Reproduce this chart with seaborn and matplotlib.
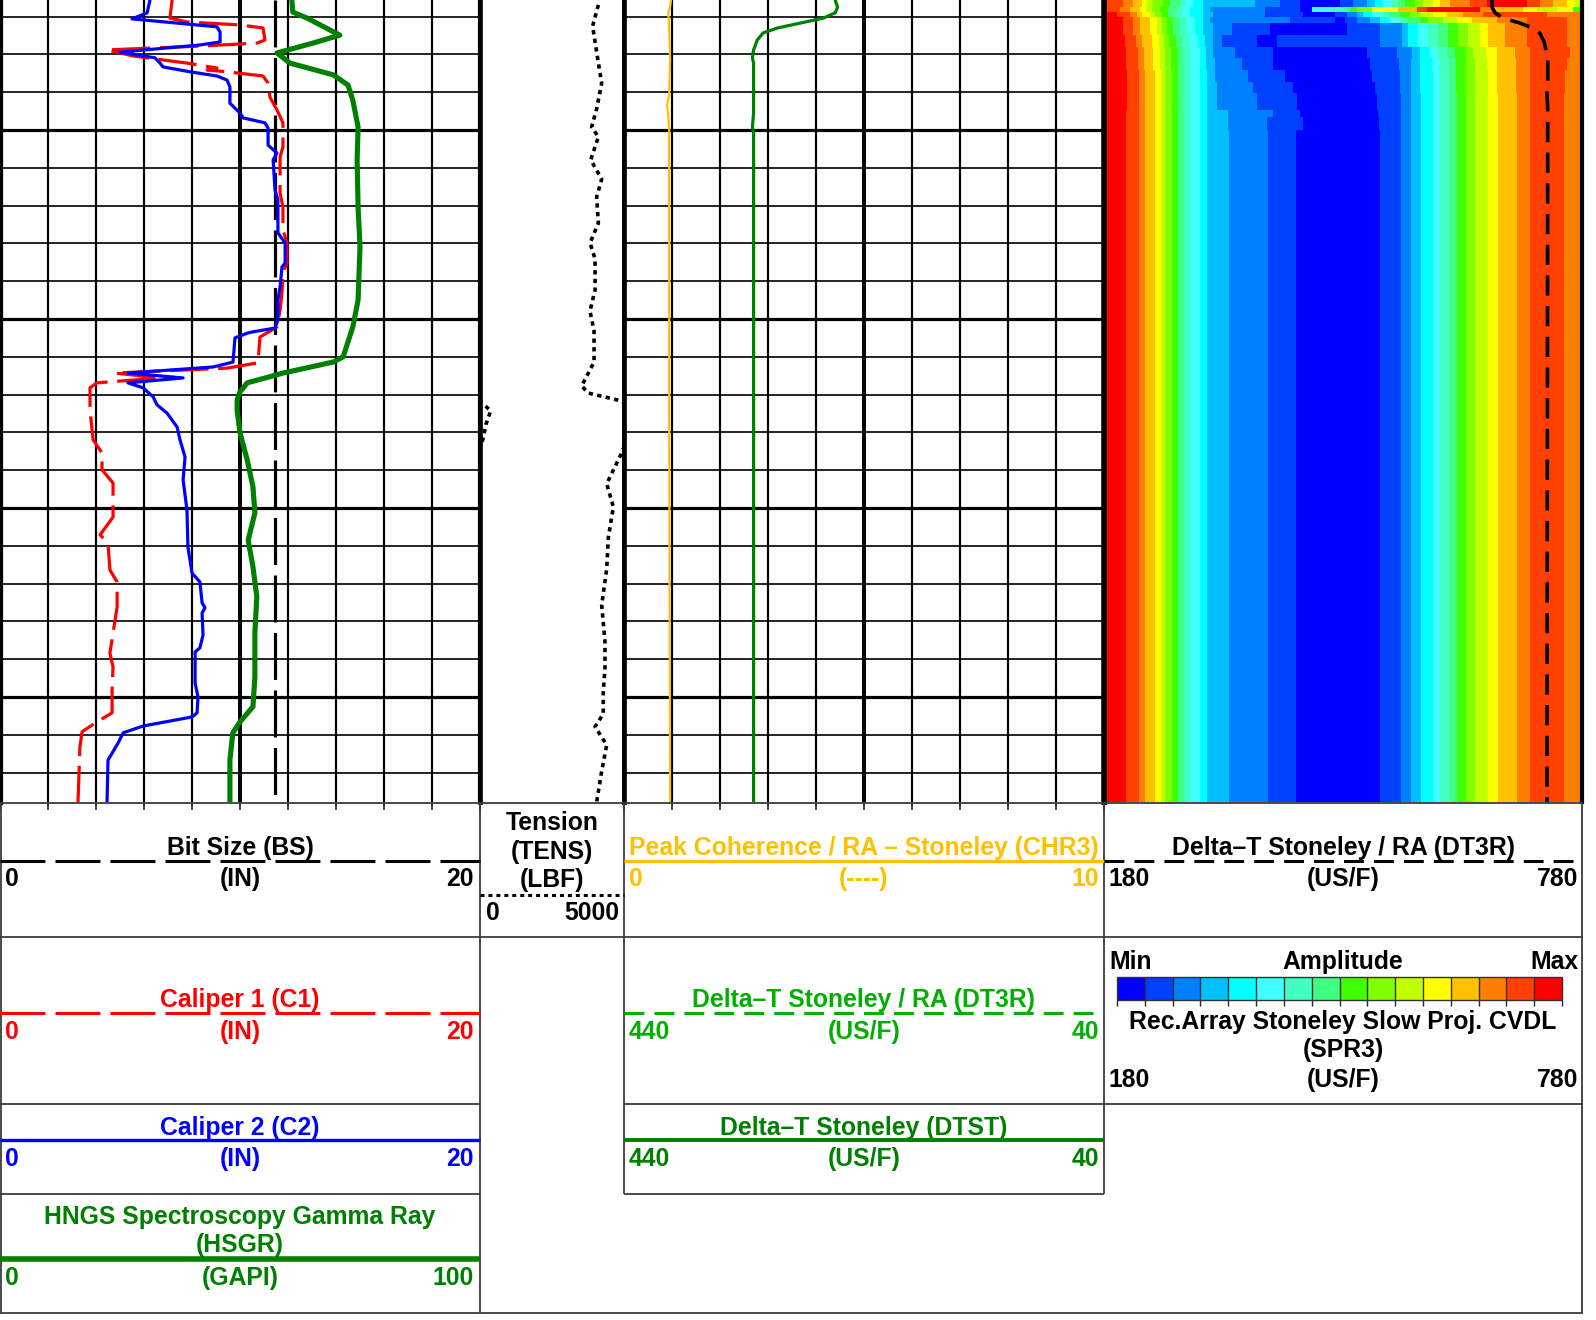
import numpy as np
import pandas as pd
import matplotlib
matplotlib.use("Agg")
import matplotlib.pyplot as plt
from matplotlib.colors import ListedColormap, BoundaryNorm
from matplotlib.ticker import MultipleLocator
from matplotlib.cm import ScalarMappable
import seaborn as sns

sns.set_theme(style="white")
plt.rcParams['font.family'] = ['Liberation Sans', 'DejaVu Sans']
plt.rcParams['font.weight'] = 'bold'

# ------------------------------------------------------------------ data
depth_top, depth_bot = 1001.56, 1022.78

c2_depth = [1001.56, 1001.90, 1002.06, 1002.27, 1002.41, 1002.67, 1002.75, 1002.94, 1003.09, 1003.23,
            1003.33, 1003.46, 1003.57, 1003.68, 1003.86, 1004.29, 1004.55, 1004.68, 1004.81, 1004.95,
            1005.40, 1005.61, 1005.79, 1006.59, 1006.85, 1007.72, 1007.99, 1008.52, 1008.62, 1009.15,
            1009.50, 1010.03, 1010.24, 1010.34, 1010.37, 1010.50, 1011.14, 1011.27, 1011.43, 1011.56,
            1011.69, 1011.82, 1012.06, 1012.27, 1012.49, 1012.86, 1013.20, 1013.65, 1014.26, 1015.05,
            1016.03, 1016.72, 1016.96, 1017.51, 1017.64, 1017.78, 1018.36, 1018.70, 1018.81, 1019.63,
            1020.00, 1020.42, 1020.53, 1020.77, 1020.95, 1021.22, 1021.67, 1022.78]
c2_in = [6.25, 6.13, 5.50, 9.04, 9.17, 9.17, 8.33, 5.00, 6.46, 6.67,
         6.79, 7.92, 9.04, 9.46, 9.58, 9.58, 10.00, 10.13, 11.04, 11.17,
         11.17, 11.54, 11.38, 11.46, 11.58, 11.58, 11.88, 11.88, 11.75, 11.67,
         11.58, 11.58, 11.46, 10.54, 10.33, 9.79, 9.71, 8.88, 5.33, 7.63,
         5.33, 5.96, 6.38, 6.54, 6.96, 7.38, 7.50, 7.71, 7.63, 7.79,
         7.83, 8.00, 8.33, 8.42, 8.54, 8.42, 8.46, 8.33, 8.13, 8.13,
         8.25, 8.21, 8.00, 5.96, 5.13, 4.92, 4.50, 4.46]

c1_depth = [1001.56, 1002.04, 1002.14, 1002.22, 1002.30, 1002.62, 1002.70, 1002.78, 1002.88, 1003.04,
            1003.23, 1003.36, 1003.41, 1003.46, 1003.57, 1003.76, 1004.13, 1004.47, 1004.81, 1005.45,
            1005.71, 1006.67, 1007.04, 1007.64, 1007.99, 1008.52, 1008.78, 1009.31, 1009.76, 1010.21,
            1010.48, 1011.16, 1011.30, 1011.43, 1011.56, 1011.69, 1011.82, 1012.41, 1013.20, 1013.54,
            1013.99, 1014.34, 1015.24, 1015.71, 1015.93, 1016.64, 1016.96, 1017.62, 1018.31, 1018.84,
            1019.21, 1019.81, 1020.42, 1020.66, 1020.92, 1021.32, 1022.78]
c1_in = [7.17, 7.08, 7.79, 10.00, 10.96, 11.04, 10.71, 8.33, 4.46, 5.54,
         7.79, 9.04, 8.63, 9.46, 10.96, 11.17, 11.25, 11.54, 11.79, 11.79,
         11.67, 11.67, 11.79, 11.79, 11.96, 11.96, 11.79, 11.75, 11.67, 11.54,
         10.83, 10.75, 9.46, 4.79, 6.67, 4.04, 3.75, 3.75, 3.88, 4.25,
         4.25, 4.71, 4.71, 4.17, 4.50, 4.58, 4.88, 4.88, 4.71, 4.58,
         4.71, 4.67, 4.67, 4.04, 3.42, 3.33, 3.25]

hsgr_depth = [1001.56, 1001.88, 1002.04, 1002.49, 1002.70, 1002.96, 1003.23, 1003.54, 1003.81, 1004.21,
              1004.92, 1005.79, 1007.04, 1008.09, 1009.50, 1010.21, 1011.00, 1011.14, 1011.43, 1011.69,
              1011.93, 1012.14, 1012.41, 1013.01, 1013.73, 1014.44, 1015.13, 1015.85, 1016.56, 1017.35,
              1018.31, 1019.47, 1020.26, 1020.66, 1020.95, 1021.67, 1022.78]
hsgr_gapi = [60.8, 61.0, 64.0, 70.8, 65.2, 57.7, 60.4, 69.4, 72.5, 73.5,
             74.6, 74.4, 74.6, 75.0, 74.6, 73.5, 71.5, 69.4, 59.0, 51.5,
             50.0, 49.4, 49.4, 50.0, 51.5, 52.7, 53.1, 51.7, 52.7, 53.5,
             53.1, 53.1, 52.7, 50.0, 48.5, 47.9, 47.9]

bs_depth = [depth_top, depth_bot]
bs_in = [11.45, 11.45]

tens_depth = [1001.69, 1002.25, 1002.94, 1003.76, 1004.44, 1004.92, 1005.18, 1005.79, 1006.30, 1006.77,
              1007.46, 1007.99, 1008.41, 1009.23, 1009.79, 1010.32, 1011.14, 1011.77, 1011.96, 1012.17,
              1012.25, 1012.43, 1012.78, 1013.20, 1013.54, 1014.36, 1014.97, 1015.79, 1016.61, 1017.57,
              1018.54, 1019.23, 1019.89, 1020.45, 1020.79, 1021.27, 1021.96, 1022.78]
tens_lbf = [4110, 3910, 4050, 4225, 4050, 3875, 4110, 3845, 4225, 4050,
            4110, 3820, 3995, 3995, 3820, 3960, 3960, 3530, 3760, 4920,
            5115, 5370, 5210, 5095, 4920, 4400, 4630, 4455, 4400, 4225,
            4340, 4340, 4280, 4280, 3995, 4400, 4225, 4050]
tens_scale_max = 5000

chr3_depth = [1001.56, 1001.75, 1001.90, 1002.27, 1003.15, 1004.07, 1004.34, 1004.60, 1005.00, 1012.14, 1022.78]
chr3 = [0.98, 0.96, 0.92, 0.94, 0.96, 0.94, 0.90, 0.92, 0.94, 0.94, 0.96]

dtst_depth = [1001.56, 1001.75, 1001.90, 1002.04, 1002.30, 1002.43, 1002.62, 1002.88, 1003.09, 1003.23,
              1004.55, 1004.92, 1005.08, 1012.14, 1022.78]
dtst = [264, 262, 264, 274, 312, 324, 329, 332, 333, 332, 332, 333, 332, 332, 332]

dt3r_depth = [1001.56, 1001.75, 1001.90, 1002.04, 1002.17, 1002.30, 1002.43, 1002.70, 1003.15, 1003.68,
              1004.02, 1004.47, 1022.78]
dt3r = [667, 667, 671, 681, 702, 718, 727, 733, 737, 737, 736, 737, 736]

# SPR3 projection image: amplitude class (0 = Min ... 15 = Max) per slowness band, per depth row
amp_colors = ['#0000FF', '#0040FF', '#0080FF', '#00C0FF', '#00FFFF', '#40FFFF', '#40FFC0', '#40FF80',
              '#40FF00', '#80FF00', '#C0FF00', '#FFFF00', '#FFC000', '#FF8000', '#FF4000', '#FF0000']
spr3_row_depths = [1001.56, 1001.745, 1001.877, 1002.01, 1002.17, 1002.49, 1002.80, 1003.09, 1003.41,
                   1003.73, 1004.02, 1004.47, 1004.66, 1005.0, 1022.78]
lv_std = [15, 14, 13, 12, 11, 10, 9, 8, 7, 6, 5, 4, 3, 2, 1, 0, 1, 2, 3, 4, 5, 6, 7, 8, 9, 10, 11, 12, 13, 14, 13]
lv_r1 = [14, 13, 12, 11, 10, 9, 8, 7, 6, 5, 4, 3, 2, 1, 0, 1, 2, 3, 4, 5, 6, 7, 8, 9, 10, 11, 12, 13, 14, 15,
         14, 13, 12, 11, 10]
lv_r2 = [14, 13, 12, 11, 10, 9, 8, 7, 6, 5, 4, 3, 2, 1, 0, 5, 6, 7, 8, 9, 11, 12, 14, 15, 13, 12, 11, 10, 11, 8]
spr3_levels = [lv_r1, lv_r2] + [lv_std] * 12
spr3_edges = [
    [180, 204, 216, 228, 234, 241, 254, 263, 275, 282, 292, 304, 370, 401, 426, 476, 493, 510, 520, 530, 542,
     549, 558, 570, 580, 593, 602, 614, 639, 661, 711, 727, 744, 761, 771, 780],
    [180, 200, 213, 225, 233, 240, 250, 260, 272, 279, 288, 304, 313, 382, 426, 441, 464, 483, 489, 498, 517,
     549, 573, 585, 652, 668, 706, 723, 749, 769, 780],
    [180, 196, 213, 221, 228, 238, 244, 253, 260, 269, 278, 288, 304, 317, 382, 430, 470, 485, 498, 505, 517,
     530, 539, 552, 564, 577, 593, 611, 631, 656, 736, 780],
    [180, 204, 216, 225, 238, 247, 253, 259, 267, 275, 284, 294, 304, 313, 413, 470, 483, 498, 514, 526, 539,
     552, 560, 577, 587, 606, 623, 642, 673, 711, 761, 780],
    [180, 204, 216, 225, 238, 247, 253, 259, 267, 275, 284, 294, 304, 317, 341, 388, 485, 526, 554, 562, 574,
     587, 599, 612, 624, 637, 652, 662, 683, 711, 761, 780],
    [180, 206, 220, 228, 240, 249, 255, 262, 270, 278, 287, 298, 307, 317, 328, 372, 397, 526, 554, 562, 574,
     587, 599, 612, 624, 637, 652, 662, 683, 711, 761, 780],
    [180, 208, 223, 230, 242, 250, 257, 264, 273, 279, 288, 300, 308, 317, 344, 392, 510, 548, 567, 577, 589,
     598, 611, 621, 634, 643, 659, 673, 696, 715, 765, 780],
    [180, 208, 223, 230, 242, 250, 257, 264, 273, 279, 288, 300, 308, 319, 353, 392, 514, 550, 565, 577, 592,
     601, 613, 622, 634, 646, 661, 673, 697, 715, 761, 780],
    [180, 209, 224, 231, 244, 252, 257, 265, 273, 279, 288, 300, 309, 319, 361, 407, 516, 552, 565, 577, 593,
     602, 614, 622, 634, 646, 662, 673, 697, 715, 759, 780],
    [180, 209, 224, 231, 244, 252, 257, 265, 273, 279, 288, 300, 309, 322, 367, 417, 520, 552, 565, 577, 593,
     602, 614, 622, 634, 646, 662, 673, 697, 715, 759, 780],
    [180, 209, 224, 231, 244, 252, 257, 265, 273, 279, 288, 300, 309, 322, 372, 422, 523, 553, 565, 578, 593,
     602, 614, 623, 634, 646, 662, 674, 698, 715, 758, 780],
    [180, 208, 224, 231, 244, 252, 257, 265, 273, 280, 288, 300, 309, 336, 392, 426, 524, 553, 565, 578, 593,
     602, 614, 623, 634, 646, 662, 674, 698, 715, 758, 780],
    [180, 208, 224, 231, 244, 252, 257, 265, 273, 280, 288, 300, 309, 336, 385, 430, 525, 553, 565, 578, 593,
     602, 614, 623, 634, 646, 662, 674, 698, 715, 758, 780],
    [180, 208, 224, 231, 244, 252, 257, 265, 273, 280, 288, 300, 309, 337, 386, 421, 526, 553, 565, 578, 593,
     602, 614, 623, 634, 646, 662, 674, 698, 715, 758, 780],
]

# ------------------------------------------------------------------ figure
W, H = 1596, 1320
fig = plt.figure(figsize=(W / 100, H / 100), dpi=100)
fig.patch.set_facecolor('white')
TRACK_BOT = 802


def add_ax(x0, x1, y0, y1):
    return fig.add_axes([x0 / W, 1 - y1 / H, (x1 - x0) / W, (y1 - y0) / H])


def clean(ax):
    ax.set_xlabel('')
    ax.set_ylabel('')
    ax.tick_params(which='both', left=False, right=False, bottom=False, top=False,
                   labelleft=False, labelbottom=False, labeltop=False, labelright=False)


def style_track(ax, xlim, step, center, grid=True, lw_left=3, lw_right=3):
    ax.set_xlim(*xlim)
    ax.set_ylim(depth_bot, depth_top)
    clean(ax)
    if grid:
        ax.xaxis.set_major_locator(MultipleLocator(step))
        ax.yaxis.set_major_locator(MultipleLocator(5))
        ax.yaxis.set_minor_locator(MultipleLocator(1))
        ax.grid(True, which='major', axis='x', color='black', lw=1.6)
        ax.grid(True, which='major', axis='y', color='black', lw=2.3)
        ax.grid(True, which='minor', axis='y', color='black', lw=1.2)
        ax.axvline(center, color='black', lw=2.8, zorder=0.6)
    else:
        ax.grid(False)
    ax.set_axisbelow(True)
    for s in ['top', 'bottom']:
        ax.spines[s].set_visible(False)
    ax.spines['left'].set_linewidth(lw_left)
    ax.spines['right'].set_linewidth(lw_right)
    ax.spines['left'].set_color('black')
    ax.spines['right'].set_color('black')


def twin(ax, xlim):
    t = ax.twiny()
    t.set_xlim(*xlim)
    clean(t)
    t.grid(False)
    for s in t.spines.values():
        s.set_visible(False)
    t.patch.set_visible(False)
    return t


def curve(ax, depth, values, color, lw, ls='-', zorder=3):
    df = pd.DataFrame({'value': values, 'depth': depth})
    sns.lineplot(data=df, x='value', y='depth', ax=ax, sort=False, estimator=None,
                 color=color, linewidth=lw, linestyle=ls, zorder=zorder)


DASH_LONG = (0, (14.7, 3.3))
DASH_SHORT = (0, (6.5, 3.3))
DOTTED = (0, (1.2, 1.2))
ORANGE = '#FFC000'
LGREEN = '#00B000'
DGREEN = '#008000'

# ---- track 1
ax1 = add_ax(0, 480, 0, TRACK_BOT)
curve(ax1, bs_depth, bs_in, 'black', 2.3, DASH_LONG)
curve(ax1, c1_depth, c1_in, '#FF0000', 2.3, (0, (12.0, 3.0)))
curve(ax1, c2_depth, c2_in, '#0000FF', 2.3)
style_track(ax1, (0, 20), 2, 10, lw_left=4.5, lw_right=3)
ax1h = twin(ax1, (0, 100))
curve(ax1h, hsgr_depth, hsgr_gapi, DGREEN, 3.7)
ax1h.set_xlim(0, 100)
clean(ax1h)

# ---- tension track
ax2 = add_ax(480, 624, 0, TRACK_BOT)
t = np.array(tens_lbf, dtype=float)
curve(ax2, tens_depth, t, 'black', 2.6, DOTTED)
curve(ax2, tens_depth, t - tens_scale_max, 'black', 2.6, DOTTED)
style_track(ax2, (0, tens_scale_max), 1000, 0, grid=False, lw_left=3.4, lw_right=3.4)

# ---- track 3
ax3 = add_ax(624, 1104, 0, TRACK_BOT)
curve(ax3, chr3_depth, chr3, ORANGE, 1.6)
style_track(ax3, (0, 10), 1, 5, lw_left=3.4, lw_right=3.5)
ax3d = twin(ax3, (440, 40))
curve(ax3d, dtst_depth, dtst, DGREEN, 2.3)
ax3d.set_xlim(440, 40)
clean(ax3d)

# ---- track 4 (SPR3 image + DT3R)
ax4 = add_ax(1104, 1582, 0, TRACK_BOT)
cmap = ListedColormap(amp_colors)
norm = BoundaryNorm(np.arange(-0.5, 16.5, 1), cmap.N)
for i, (lev, edg) in enumerate(zip(spr3_levels, spr3_edges)):
    ax4.pcolormesh(np.array(edg, float), np.array(spr3_row_depths[i:i + 2]), np.array([lev], float),
                   cmap=cmap, norm=norm, shading='flat', antialiased=False, edgecolors='none',
                   linewidth=0, zorder=1)
curve(ax4, dt3r_depth, dt3r, 'black', 2.6, (0, (5.6, 2.9)), zorder=4)
style_track(ax4, (180, 780), 60, 480, grid=False, lw_left=4, lw_right=3)

# ------------------------------------------------------------------ header
axh = fig.add_axes([0, 0, 1, (H - TRACK_BOT + 2) / H])
axh.set_xlim(0, W)
axh.set_ylim(H, TRACK_BOT - 2)
axh.set_axis_off()

FR = '#3c3c3c'


def hl(y, x0, x1, **kw):
    kw.setdefault('color', FR)
    kw.setdefault('lw', 1.3)
    axh.plot([x0, x1], [y, y], solid_capstyle='butt', dash_capstyle='butt', **kw)


def vl(x, y0, y1, **kw):
    kw.setdefault('color', FR)
    kw.setdefault('lw', 1.3)
    axh.plot([x, x], [y0, y1], solid_capstyle='butt', **kw)


# frame
hl(803, 0, 1583)
hl(937, 0, 1583)
hl(1104, 0, 480)
hl(1104, 624, 1583)
hl(1194, 0, 480)
hl(1194, 624, 1104)
hl(1313, 0, 1583)
vl(1, 803, 1313)
vl(480, 803, 1313)
vl(624, 803, 1194)
vl(1104, 803, 1194)
vl(1582, 803, 1313)

FS = 17.8


def T(x, y, s, color='black', ha='center'):
    axh.text(x, y, s, color=color, ha=ha, va='baseline', fontsize=FS, fontweight='bold')


# Bit size
T(240, 855, 'Bit Size (BS)')
hl(861, 0, 480, color='black', lw=2.2, linestyle=DASH_LONG)
T(5, 886, '0', ha='left'); T(240, 886, '(IN)'); T(474, 886, '20', ha='right')
# Caliper 1
T(240, 1007, 'Caliper 1 (C1)', '#FF0000')
hl(1013, 0, 480, color='#FF0000', lw=2.2, linestyle=DASH_LONG)
T(5, 1039, '0', '#FF0000', 'left'); T(240, 1039, '(IN)', '#FF0000'); T(474, 1039, '20', '#FF0000', 'right')
# Caliper 2
T(240, 1135, 'Caliper 2 (C2)', '#0000FF')
hl(1140, 0, 480, color='#0000FF', lw=2.4)
T(5, 1166, '0', '#0000FF', 'left'); T(240, 1166, '(IN)', '#0000FF'); T(474, 1166, '20', '#0000FF', 'right')
# HSGR
T(240, 1224, 'HNGS Spectroscopy Gamma Ray', DGREEN)
T(240, 1252, '(HSGR)', DGREEN)
hl(1259, 0, 480, color=DGREEN, lw=4)
T(5, 1285, '0', DGREEN, 'left'); T(240, 1285, '(GAPI)', DGREEN); T(474, 1285, '100', DGREEN, 'right')
# Tension
T(552, 830, 'Tension'); T(552, 859, '(TENS)'); T(552, 887, '(LBF)')
hl(895, 480, 624, color='black', lw=2.2, linestyle=(0, (1.3, 1.3)))
T(486, 920, '0', ha='left'); T(619, 920, '5000', ha='right')
# CHR3
T(864, 855, 'Peak Coherence / RA \u2013 Stoneley (CHR3)', ORANGE)
hl(861, 624, 1104, color=ORANGE, lw=2.2)
T(629, 886, '0', ORANGE, 'left'); T(864, 886, '(----)', ORANGE); T(1099, 886, '10', ORANGE, 'right')
# DT3R green
T(864, 1007, 'Delta\u2013T Stoneley / RA (DT3R)', LGREEN)
hl(1013, 624, 1104, color=LGREEN, lw=2.2, linestyle=DASH_SHORT)
T(629, 1039, '440', LGREEN, 'left'); T(864, 1039, '(US/F)', LGREEN); T(1099, 1039, '40', LGREEN, 'right')
# DTST
T(864, 1135, 'Delta\u2013T Stoneley (DTST)', DGREEN)
hl(1140, 624, 1104, color=DGREEN, lw=2.8)
T(629, 1166, '440', DGREEN, 'left'); T(864, 1166, '(US/F)', DGREEN); T(1099, 1166, '40', DGREEN, 'right')
# DT3R black
T(1343, 855, 'Delta\u2013T Stoneley / RA (DT3R)')
hl(861, 1104, 1582, color='black', lw=2.2, linestyle=DASH_SHORT)
T(1109, 886, '180', ha='left'); T(1343, 886, '(US/F)'); T(1578, 886, '780', ha='right')
# SPR3 legend
T(1109, 969, 'Min', ha='left'); T(1343, 969, 'Amplitude'); T(1578, 969, 'Max', ha='right')
cax = add_ax(1117, 1562, 977, 1000)
cb = fig.colorbar(ScalarMappable(norm=norm, cmap=cmap), cax=cax, orientation='horizontal',
                  drawedges=True, ticks=[])
cb.outline.set_linewidth(1.0)
cb.outline.set_edgecolor('#333333')
cb.dividers.set_linewidth(1.0)
cb.dividers.set_color('#333333')
T(1343, 1029, 'Rec.Array Stoneley Slow Proj. CVDL')
T(1343, 1057, '(SPR3)')
T(1109, 1087, '180', ha='left'); T(1343, 1087, '(US/F)'); T(1578, 1087, '780', ha='right')

fig.savefig('out.png', dpi=100, facecolor='white')
